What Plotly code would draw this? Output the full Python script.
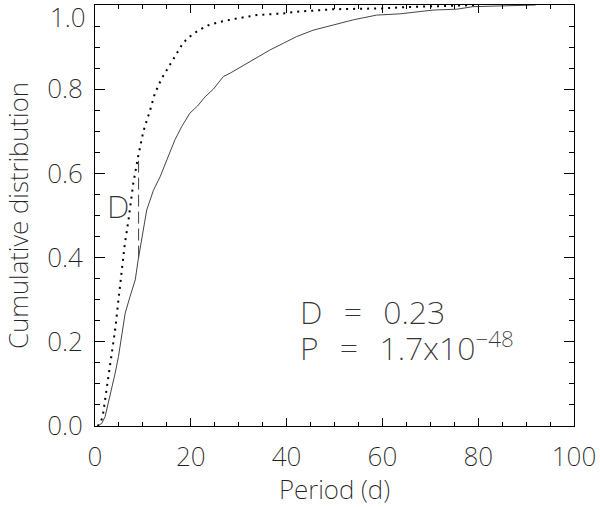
import plotly.graph_objects as go

# Sample A (dotted): period (d) and cumulative fraction
period_a = [0.5, 1.0, 1.6, 2.1, 2.8, 3.5, 4.2, 4.9, 5.6, 6.2, 7.0, 8.0, 9.0, 10.1,
            11.5, 12.5, 13.9, 15.7, 17.1, 18.4, 19.8, 21.6, 23.7, 26.1, 29.6, 33.8,
            39.3, 42.1, 50.0, 60.0, 65.0, 75.0, 80.0]
cdf_a = [0.0, 0.005, 0.022, 0.062, 0.109, 0.165, 0.228, 0.30, 0.37, 0.43, 0.49, 0.577,
         0.64, 0.70, 0.75, 0.79, 0.825, 0.86, 0.886, 0.91, 0.925, 0.94, 0.952, 0.96,
         0.968, 0.976, 0.98, 0.984, 0.99, 0.992, 0.995, 0.998, 1.0]

# Sample B (solid)
period_b = [0.5, 1.4, 2.1, 2.8, 3.5, 4.2, 4.9, 5.6, 6.3, 7.3, 8.4, 9.0, 9.7, 10.8, 12.2,
            13.6, 15.0, 16.7, 18.1, 19.8, 21.4, 23.0, 24.7, 26.8, 28.2, 30.3, 33.0, 36.5,
            39.3, 42.1, 45.5, 49.7, 54.0, 58.8, 63.7, 70.6, 75.5, 78.9, 84.6, 88.0, 92.0]
cdf_b = [0.0, 0.006, 0.022, 0.054, 0.086, 0.125, 0.165, 0.212, 0.268, 0.307, 0.347, 0.394,
         0.442, 0.513, 0.56, 0.592, 0.632, 0.68, 0.711, 0.743, 0.76, 0.782, 0.80, 0.83,
         0.838, 0.852, 0.87, 0.893, 0.909, 0.925, 0.94, 0.952, 0.965, 0.976, 0.979, 0.988,
         0.99, 0.996, 0.998, 0.999, 1.0]

# KS statistic marker
d_period = 9.1
d_lo, d_hi = 0.40, 0.63
ks_text_d = "D\u2002\u2009=\u2002\u20090.23"
ks_text_p = "P\u2002\u2009=\u2002\u20091.7x10<sup>\u221248</sup>"

x_ticks = [0, 20, 40, 60, 80, 100]
y_ticks = [0.0, 0.2, 0.4, 0.6, 0.8, 1.0]
y_ticktext = ["0.0", "0.2", "0.4", "0.6", "0.8", ""]   # top label drawn just below the frame
y_top_label = "1.0"

FONT = "Noto Sans"
fnt = dict(family=FONT, size=26, color="#222", weight=200)
big = dict(family=FONT, size=32, color="#333", weight=200)

fig = go.Figure()
fig.add_trace(go.Scatter(x=period_b, y=cdf_b, mode="lines",
                         line=dict(color="#444", width=1), showlegend=False))
fig.add_trace(go.Scatter(x=period_a, y=cdf_a, mode="lines",
                         line=dict(color="black", width=2, dash="2px,5px"), showlegend=False))
fig.add_trace(go.Scatter(x=[d_period, d_period], y=[d_lo, d_hi], mode="lines",
                         line=dict(color="#444", width=1, dash="12px,5px"), showlegend=False))

fig.add_annotation(x=4.8, y=0.523, text="D", showarrow=False, xref="x", yref="y", font=big)
fig.add_annotation(x=42.4, y=0.273, text=ks_text_d, showarrow=False, xanchor="left",
                   yanchor="middle", font=big)
fig.add_annotation(x=42.4, y=0.191, text=ks_text_p, showarrow=False, xanchor="left",
                   yanchor="middle", font=big)
fig.add_annotation(x=0, xref="paper", xanchor="right", xshift=-7, y=1, yref="paper",
                   yanchor="top", yshift=8, text=y_top_label, showarrow=False, font=fnt)

axis_common = dict(showgrid=False, zeroline=False, showline=True, linecolor="black",
                   linewidth=1, mirror="ticks", ticks="inside", tickcolor="black",
                   tickwidth=1, tickfont=fnt, ticklabeloverflow="allow")

fig.update_xaxes(range=[0, 100], tickvals=x_ticks, ticklen=8,
                 minor=dict(dtick=5, tick0=0, ticks="inside", ticklen=4, tickcolor="black"),
                 title=dict(text="Period (d)", font=fnt, standoff=3),
                 ticklabelstandoff=8, **axis_common)
fig.update_yaxes(range=[0, 1], tickvals=y_ticks, ticktext=y_ticktext, ticklen=10,
                 minor=dict(dtick=0.05, tick0=0, ticks="inside", ticklen=5, tickcolor="black"),
                 title=dict(text="Cumulative distribution", font=fnt, standoff=27),
                 ticklabelstandoff=6, **axis_common)

fig.update_layout(width=600, height=507, margin=dict(l=95, r=26, t=5, b=81, autoexpand=False),
                  plot_bgcolor="white", paper_bgcolor="white")

fig.write_html("out.html", config={"displayModeBar": False},
               post_script="document.body.style.margin='0';")
